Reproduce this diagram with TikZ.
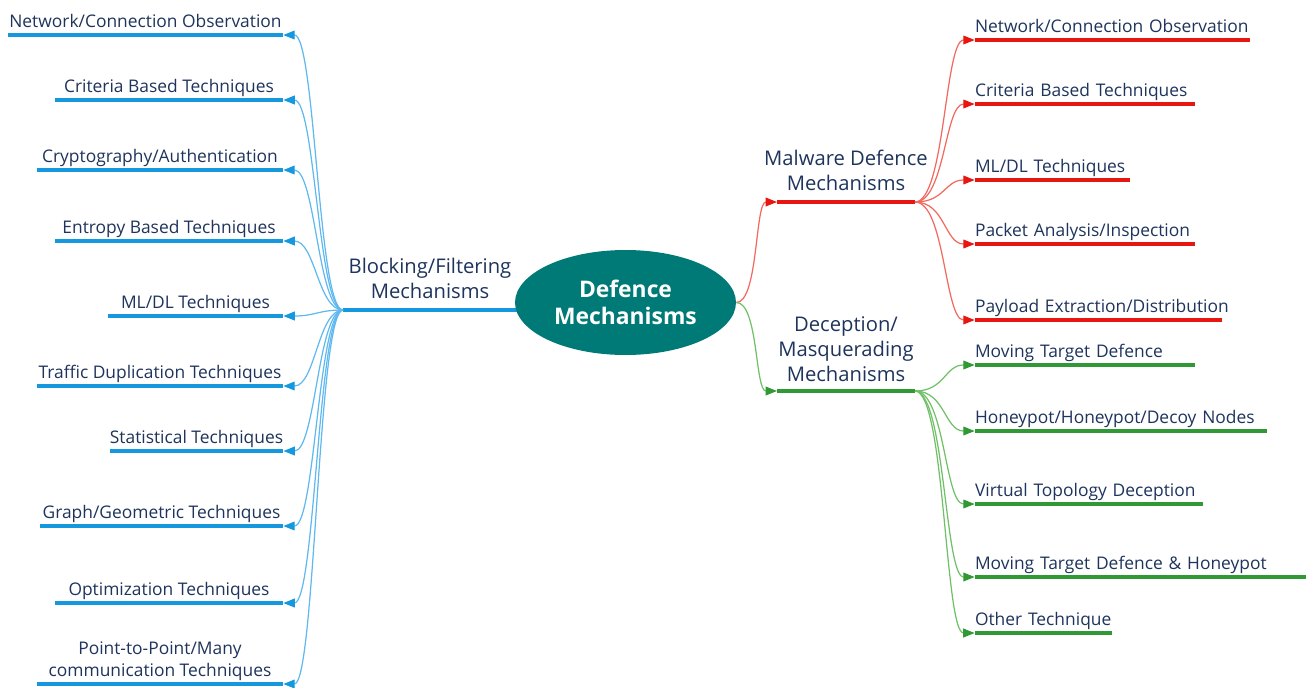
\documentclass[tikz,border=0pt]{standalone}
\usepackage{fontspec}
\setmainfont{Open Sans}
\usepackage{xcolor}
\usepackage{tikz}
\usetikzlibrary{arrows.meta, shapes.geometric}

\definecolor{txtc}{RGB}{30,52,92}
\definecolor{tealc}{RGB}{0,122,118}
\definecolor{bluec}{RGB}{22,152,222}
\definecolor{bluel}{RGB}{95,185,238}
\definecolor{redc}{RGB}{232,22,16}
\definecolor{redl}{RGB}{242,105,95}
\definecolor{greenc}{RGB}{48,152,52}
\definecolor{greenl}{RGB}{112,192,104}

\tikzset{
  leaftext/.style={anchor=south, inner xsep=0pt, inner ysep=1.5pt, text depth=2.5pt,
    text=txtc, font=\fontsize{9.9}{12.5}\selectfont},
  leafL/.style={leaftext, align=center},
  leafR/.style={leaftext, align=left},
  midtext/.style={anchor=south, inner sep=1.5pt, text depth=2.5pt, align=center,
    text=txtc, font=\fontsize{11.5}{14.3}\selectfont},
  bul/.style={line width=2.4pt, draw=bluec},
  rul/.style={line width=2.4pt, draw=redc},
  gul/.style={line width=2.4pt, draw=greenc},
  bline/.style={append after command={\pgfextra{\draw[bul] (\tikzlastnode.south west) -- (\tikzlastnode.south east);}}},
  rline/.style={append after command={\pgfextra{\draw[rul] (\tikzlastnode.south west) -- (\tikzlastnode.south east);}}},
  gline/.style={append after command={\pgfextra{\draw[gul] (\tikzlastnode.south west) -- (\tikzlastnode.south east);}}},
  bcon/.style={draw=bluel, line width=0.7pt, -{Triangle[length=6.5pt, width=5pt, color=bluec]}},
  rcon/.style={draw=redl, line width=0.7pt, -{Triangle[length=6.5pt, width=5pt, color=redc]}},
  gcon/.style={draw=greenl, line width=0.7pt, -{Triangle[length=6.5pt, width=5pt, color=greenc]}},
  hub/.style={ellipse, fill=tealc, text=white, align=center, inner sep=0pt,
    minimum width=4.42cm, minimum height=2.1cm, font=\bfseries\fontsize{13}{15.5}\selectfont}
}

\begin{document}
\begin{tikzpicture}[x=0.02cm, y=-0.02cm]
\useasboundingbox (0,0) rectangle (1306,687);

% blocking / filtering side
\coordinate (blkL) at (343,310);
\coordinate (blkR) at (517,310);
\draw[bul] (blkL) -- (blkR);
\node[midtext] (blk) at (430,306) {Blocking/Filtering\\Mechanisms};

\node[leafL, bline, minimum width=5.5cm] (bl1) at (145.5,35) {Network/Connection Observation};
\node[leafL, bline, minimum width=4.56cm] (bl2) at (169,100) {Criteria Based Techniques};
\node[leafL, bline, minimum width=4.92cm] (bl3) at (160,170) {Cryptography/Authentication};
\node[leafL, bline, minimum width=4.56cm] (bl4) at (169,241) {Entropy Based Techniques};
\node[leafL, bline, minimum width=3.5cm] (bl5) at (195.5,316) {ML/DL Techniques};
\node[leafL, bline, minimum width=4.92cm] (bl6) at (160,386) {Traffic Duplication Techniques};
\node[leafL, bline, minimum width=3.46cm] (bl7) at (196.5,451) {Statistical Techniques};
\node[leafL, bline, minimum width=4.86cm] (bl8) at (161.5,526) {Graph/Geometric Techniques};
\node[leafL, bline, minimum width=4.56cm] (bl9) at (169,603) {Optimization Techniques};
\node[leafL, bline, minimum width=4.92cm] (bl10) at (160,684) {Point-to-Point/Many\\communication Techniques};

\draw[bcon] (blkL) .. controls +(-25,0) and +(32,0) .. (bl1.south east);
\draw[bcon] (blkL) .. controls +(-25,0) and +(32,0) .. (bl2.south east);
\draw[bcon] (blkL) .. controls +(-25,0) and +(32,0) .. (bl3.south east);
\draw[bcon] (blkL) .. controls +(-25,0) and +(32,0) .. (bl4.south east);
\draw[bcon] (blkL) .. controls +(-25,0) and +(32,0) .. (bl5.south east);
\draw[bcon] (blkL) .. controls +(-25,0) and +(32,0) .. (bl6.south east);
\draw[bcon] (blkL) .. controls +(-25,0) and +(32,0) .. (bl7.south east);
\draw[bcon] (blkL) .. controls +(-25,0) and +(32,0) .. (bl8.south east);
\draw[bcon] (blkL) .. controls +(-25,0) and +(32,0) .. (bl9.south east);
\draw[bcon] (blkL) .. controls +(-25,0) and +(32,0) .. (bl10.south east);

% centre
\node[hub] (dm) at (625.5,302.5) {Defence\\Mechanisms};

% malware defence side
\coordinate (malL) at (777,202);
\coordinate (malR) at (915,202);
\draw[rul] (malL) -- (malR);
\node[midtext] (mal) at (846,198) {Malware Defence\\Mechanisms};
\draw[rcon] (dm.east) .. controls +(22,0) and +(-22,0) .. (malL);

\node[leafR, rline, text width=5.5cm] (ml1) at (1112.5,40) {Network/Connection Observation};
\node[leafR, rline, text width=4.4cm] (ml2) at (1085,104) {Criteria Based Techniques};
\node[leafR, rline, text width=3.1cm] (ml3) at (1052.5,180) {ML/DL Techniques};
\node[leafR, rline, text width=4.4cm] (ml4) at (1085,244) {Packet Analysis/Inspection};
\node[leafR, rline, text width=4.94cm] (ml5) at (1098.5,320) {\mbox{Payload Extraction/Distribution}};

\draw[rcon] (malR) .. controls +(30,0) and +(-30,0) .. (ml1.south west);
\draw[rcon] (malR) .. controls +(30,0) and +(-30,0) .. (ml2.south west);
\draw[rcon] (malR) .. controls +(30,0) and +(-30,0) .. (ml3.south west);
\draw[rcon] (malR) .. controls +(30,0) and +(-30,0) .. (ml4.south west);
\draw[rcon] (malR) .. controls +(30,0) and +(-30,0) .. (ml5.south west);

% deception / masquerading side
\coordinate (decL) at (777,391);
\coordinate (decR) at (915,391);
\draw[gul] (decL) -- (decR);
\node[midtext] (dec) at (846,389) {Deception/\\Masquerading\\Mechanisms};
\draw[gcon] (dm.east) .. controls +(22,0) and +(-22,0) .. (decL);

\node[leafR, gline, text width=4.4cm] (dl1) at (1085,365) {Moving Target Defence};
\node[leafR, gline, text width=5.84cm] (dl2) at (1121,431) {Honeypot/Honeypot/Decoy Nodes};
\node[leafR, gline, text width=4.56cm] (dl3) at (1089,504) {Virtual Topology Deception};
\node[leafR, gline, text width=6.62cm] (dl4) at (1140.5,577) {Moving Target Defence \& Honeypot};
\node[leafR, gline, text width=2.74cm] (dl5) at (1043.5,633) {Other Technique};

\draw[gcon] (decR) .. controls +(30,0) and +(-30,0) .. (dl1.south west);
\draw[gcon] (decR) .. controls +(30,0) and +(-30,0) .. (dl2.south west);
\draw[gcon] (decR) .. controls +(30,0) and +(-30,0) .. (dl3.south west);
\draw[gcon] (decR) .. controls +(30,0) and +(-30,0) .. (dl4.south west);
\draw[gcon] (decR) .. controls +(30,0) and +(-30,0) .. (dl5.south west);
\end{tikzpicture}
\end{document}
